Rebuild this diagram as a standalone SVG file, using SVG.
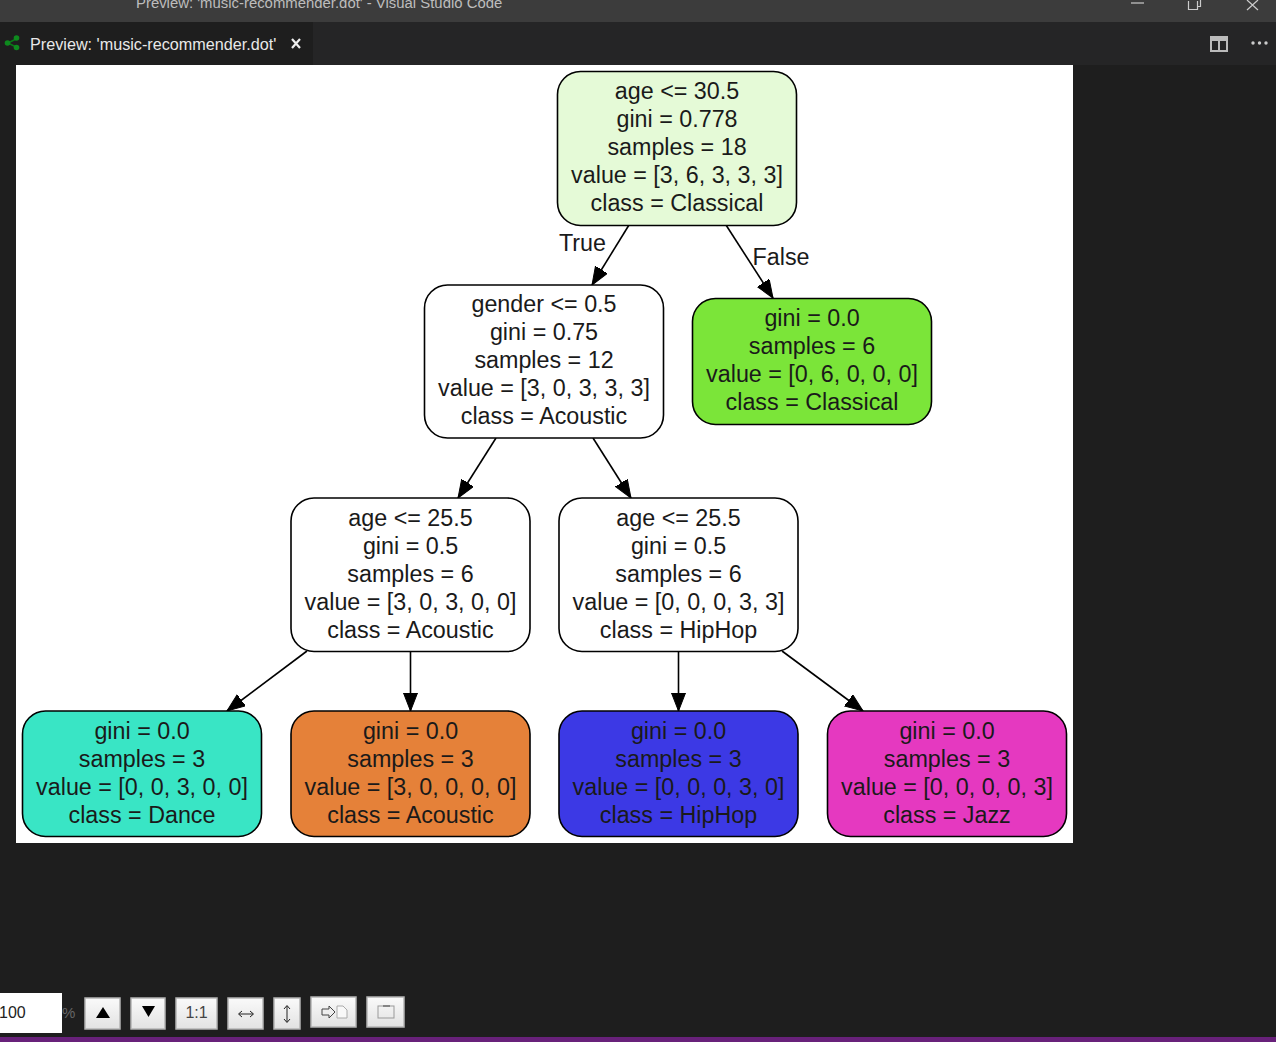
<svg xmlns="http://www.w3.org/2000/svg" width="1276" height="1042" viewBox="0 0 1276 1042">
<defs>
<style>
.n{stroke:#000;stroke-width:1.6}
.t{font-family:"Liberation Sans",Arial,sans-serif;font-size:23.3px;fill:#1a1a1a;text-anchor:middle}
.c{stroke:#000;stroke-width:1.6;fill:none;marker-end:url(#a)}
.ui{font-family:"Liberation Sans",Arial,sans-serif}
.b{stroke:#b4b4b4;stroke-width:1.5;fill:url(#bg)}
.ic{fill:none;stroke:#999;stroke-width:1}
</style>
<marker id="a" markerUnits="userSpaceOnUse" markerWidth="20" markerHeight="16" refX="18" refY="7" orient="auto"><path d="M0 0L18 7L0 14Z" fill="#000" stroke="#000" stroke-width="1"/></marker>
<linearGradient id="bg" x1="0" y1="0" x2="0" y2="1"><stop offset="0" stop-color="#fafafa"/><stop offset="1" stop-color="#e2e2e2"/></linearGradient>
</defs>
<rect id="background" width="1276" height="1042" fill="#1e1e1e"/>
<g id="chrome">
<rect width="1276" height="22" fill="#3c3c3c"/>
<text class="ui" x="136" y="8" font-size="14.9" fill="#bdbdbd" xml:space="preserve">Preview: 'music-recommender.dot' - Visual Studio Code</text>
<path d="M1131 3H1144" stroke="#ccc" stroke-width="1.2"/>
<path d="M1188.500 1V9.500H1197.500V1M1197.500 6.500H1200.500V0" stroke="#ccc" fill="none" stroke-width="1.200"/>
<path d="M1247 0L1258 10M1258 0L1247 10" stroke="#ccc" stroke-width="1.200"/>
<rect y="22" width="1276" height="43" fill="#252526"/>
<rect y="22" width="292" height="43" fill="#1e1e1e"/>
<rect x="292" y="22" width="21" height="43" fill="#1e1e1e"/>
<path d="M16 39L8 43L16 47" stroke="#0a7a18" stroke-width="1.500" fill="none"/>
<circle cx="16.500" cy="38" r="2.800" fill="#0e8a1e"/><circle cx="7.500" cy="43" r="2.800" fill="#0e8a1e"/><circle cx="16.500" cy="47.500" r="2.800" fill="#0e8a1e"/>
<text class="ui" x="30" y="50" font-size="16.200" fill="#e8e8e8">Preview: 'music-recommender.dot'</text>
<path d="M292 39L300 48M300 39L292 48" stroke="#eee" stroke-width="2.200"/>
<path d="M1211 37H1227V51H1211ZM1219 41V51" fill="none" stroke="#bbb" stroke-width="2"/><path d="M1211 37H1227V41H1211Z" fill="#bbb"/>
<circle cx="1253" cy="43" r="1.700" fill="#ccc"/><circle cx="1259.500" cy="43" r="1.700" fill="#ccc"/><circle cx="1266" cy="43" r="1.700" fill="#ccc"/>
<rect x="16" y="65" width="1057" height="778" fill="#fff"/>
</g>
<g id="connectors">
<path class="c" d="M629 225L592 285"/>
<path class="c" d="M726 225L773 298"/>
<path class="c" d="M496 438L458 498"/>
<path class="c" d="M593 438L631 498"/>
<path class="c" d="M307 651L227 711"/>
<path class="c" d="M410.500 651V711"/>
<path class="c" d="M678.500 651V711"/>
<path class="c" d="M782 651L863 711"/>
<text class="t" x="582.500" y="251">True</text>
<text class="t" x="781" y="265">False</text>
</g>
<g id="n0"><rect class="n" x="557.500" y="71.500" width="239" height="154" rx="23" fill="#e5fad7"/>
<text class="t" x="677" y="99">age &lt;= 30.5</text><text class="t" x="677" y="127">gini = 0.778</text><text class="t" x="677" y="155">samples = 18</text><text class="t" x="677" y="183">value = [3, 6, 3, 3, 3]</text><text class="t" x="677" y="211">class = Classical</text></g>
<g id="n1"><rect class="n" x="424.500" y="285" width="239" height="153" rx="23" fill="#fff"/>
<text class="t" x="544" y="312">gender &lt;= 0.5</text><text class="t" x="544" y="340">gini = 0.75</text><text class="t" x="544" y="368">samples = 12</text><text class="t" x="544" y="396">value = [3, 0, 3, 3, 3]</text><text class="t" x="544" y="424">class = Acoustic</text></g>
<g id="n2"><rect class="n" x="692.500" y="298.500" width="239" height="126" rx="23" fill="#7be539"/>
<text class="t" x="812" y="326">gini = 0.0</text><text class="t" x="812" y="354">samples = 6</text><text class="t" x="812" y="382">value = [0, 6, 0, 0, 0]</text><text class="t" x="812" y="410">class = Classical</text></g>
<g id="n3"><rect class="n" x="291" y="498" width="239" height="153.500" rx="23" fill="#fff"/>
<text class="t" x="410.500" y="526">age &lt;= 25.5</text><text class="t" x="410.500" y="554">gini = 0.5</text><text class="t" x="410.500" y="582">samples = 6</text><text class="t" x="410.500" y="610">value = [3, 0, 3, 0, 0]</text><text class="t" x="410.500" y="638">class = Acoustic</text></g>
<g id="n4"><rect class="n" x="559" y="498" width="239" height="153.500" rx="23" fill="#fff"/>
<text class="t" x="678.500" y="526">age &lt;= 25.5</text><text class="t" x="678.500" y="554">gini = 0.5</text><text class="t" x="678.500" y="582">samples = 6</text><text class="t" x="678.500" y="610">value = [0, 0, 0, 3, 3]</text><text class="t" x="678.500" y="638">class = HipHop</text></g>
<g id="n5"><rect class="n" x="22.500" y="711" width="239" height="125.500" rx="23" fill="#39e5c5"/>
<text class="t" x="142" y="739">gini = 0.0</text><text class="t" x="142" y="767">samples = 3</text><text class="t" x="142" y="795">value = [0, 0, 3, 0, 0]</text><text class="t" x="142" y="823">class = Dance</text></g>
<g id="n6"><rect class="n" x="291" y="711" width="239" height="125.500" rx="23" fill="#e58139"/>
<text class="t" x="410.500" y="739">gini = 0.0</text><text class="t" x="410.500" y="767">samples = 3</text><text class="t" x="410.500" y="795">value = [3, 0, 0, 0, 0]</text><text class="t" x="410.500" y="823">class = Acoustic</text></g>
<g id="n7"><rect class="n" x="559" y="711" width="239" height="125.500" rx="23" fill="#3c39e5"/>
<text class="t" x="678.500" y="739">gini = 0.0</text><text class="t" x="678.500" y="767">samples = 3</text><text class="t" x="678.500" y="795">value = [0, 0, 0, 3, 0]</text><text class="t" x="678.500" y="823">class = HipHop</text></g>
<g id="n8"><rect class="n" x="827.500" y="711" width="239" height="125.500" rx="23" fill="#e539c0"/>
<text class="t" x="947" y="739">gini = 0.0</text><text class="t" x="947" y="767">samples = 3</text><text class="t" x="947" y="795">value = [0, 0, 0, 0, 3]</text><text class="t" x="947" y="823">class = Jazz</text></g>
<g id="toolbar">
<rect x="-2" y="993" width="64" height="40" fill="#fff"/>
<text class="ui" x="-1" y="1018" font-size="16" fill="#222">100</text>
<text class="ui" x="62" y="1018" font-size="15" fill="#666">%</text>
<rect class="b" x="85" y="998" width="35" height="31"/>
<path d="M96 1018L103 1007L110 1018Z" fill="#000"/>
<rect class="b" x="131" y="998" width="34" height="31"/>
<path d="M142 1006H155L148.500 1017Z" fill="#000"/>
<rect class="b" x="176" y="998" width="41" height="31"/>
<text class="ui" x="196.500" y="1018" font-size="16" fill="#444" text-anchor="middle">1:1</text>
<rect class="b" x="228" y="998" width="35" height="31"/>
<path d="M239 1014H253M242 1011L238.500 1014L242 1017M250 1011L253.500 1014L250 1017" fill="none" stroke="#222"/>
<rect class="b" x="274" y="998" width="26" height="31"/>
<path d="M287 1006V1022M284 1009L287 1005.500L290 1009M284 1019L287 1022.500L290 1019" fill="none" stroke="#222"/>
<rect class="b" x="311" y="997" width="45" height="30"/>
<path d="M322 1009H329V1006L335 1012L329 1018V1015H322Z" fill="#eee" stroke="#444"/>
<path d="M337 1006H343L347 1010V1018H337Z" fill="#f8f8f8" stroke="#aaa"/>
<rect class="b" x="367" y="997" width="37" height="30"/>
<rect x="378" y="1006" width="16" height="12" class="ic"/>
<path d="M383 1006H390" stroke="#444"/>
<rect y="1037" width="1276" height="5" fill="#68217a"/>
</g>
</svg>
